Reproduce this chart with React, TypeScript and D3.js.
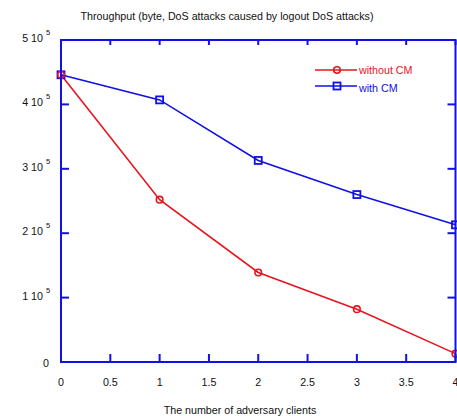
import React from "react";
import * as d3 from "d3";

const clients = [0, 1, 2, 3, 4];
const withoutCM = [446000, 252000, 139000, 82000, 13000];
const withCM = [446000, 407000, 313000, 260000, 213000];
const xTicks = [0, 0.5, 1, 1.5, 2, 2.5, 3, 3.5, 4];
const xTickLabels = ["0", "0.5", "1", "1.5", "2", "2.5", "3", "3.5", "4"];
const yTicks = [0, 100000, 200000, 300000, 400000, 500000];
const yTickMantissa = ["0", "1 10", "2 10", "3 10", "4 10", "5 10"];
const yTickExp = ["", "5", "5", "5", "5", "5"];
const title = "Throughput (byte, DoS attacks caused by logout DoS attacks)";
const xTitle = "The number of adversary clients";
const seriesNames = ["without CM", "with CM"];

const W = 457;
const H = 416;
const left = 61;
const right = 455.5;
const top = 40;
const bottom = 362;
const RED = "#e8141e";
const BLUE = "#1010e8";
const FONT = "'Liberation Sans', Arial, Helvetica, sans-serif";
const FS = 10.7;

export default function App() {
  const x = d3.scaleLinear().domain([0, 4]).range([left, right]);
  const y = d3.scaleLinear().domain([0, 500000]).range([bottom, top]);
  const line = d3
    .line<number>()
    .x((_, i) => x(clients[i]))
    .y((d) => y(d));

  const sq = 7;

  return (
    <svg
      width={W}
      height={H}
      style={{ position: "absolute", left: 0, top: 0, background: "#fff" }}
      fontFamily={FONT}
    >
      <rect x={0} y={0} width={W} height={H} fill="#fff" />
      <text x={227} y={20} fontSize={FS} textAnchor="middle" fill="#111">
        {title}
      </text>

      {/* data lines */}
      <path d={line(withoutCM) || ""} fill="none" stroke={RED} strokeWidth={1.6} />
      <path d={line(withCM) || ""} fill="none" stroke={BLUE} strokeWidth={1.6} />

      {/* markers */}
      {withCM.map((v, i) => (
        <rect
          key={"b" + i}
          x={x(clients[i]) - sq / 2}
          y={y(v) - sq / 2}
          width={sq}
          height={sq}
          fill="none"
          stroke={BLUE}
          strokeWidth={1.8}
        />
      ))}
      {withoutCM.map((v, i) => (
        <circle
          key={"r" + i}
          cx={x(clients[i])}
          cy={y(v)}
          r={3.3}
          fill="none"
          stroke={RED}
          strokeWidth={1.6}
        />
      ))}

      {/* frame */}
      <rect
        x={left}
        y={top}
        width={right - left}
        height={bottom - top}
        fill="none"
        stroke={BLUE}
        strokeWidth={2}
      />
      {xTicks.map((t, i) => (
        <g key={"xt" + i}>
          <line x1={x(t)} x2={x(t)} y1={bottom} y2={bottom - 8} stroke={BLUE} strokeWidth={2} />
          <line x1={x(t)} x2={x(t)} y1={top} y2={top + 5} stroke={BLUE} strokeWidth={2} />
          <text x={x(t)} y={386} fontSize={FS} textAnchor="middle" fill="#111">
            {xTickLabels[i]}
          </text>
        </g>
      ))}
      {yTicks.map((t, i) => (
        <g key={"yt" + i}>
          <line x1={left} x2={left + 8} y1={y(t)} y2={y(t)} stroke={BLUE} strokeWidth={2} />
          <line x1={right} x2={right - 8} y1={y(t)} y2={y(t)} stroke={BLUE} strokeWidth={2} />
          <text
            x={i === 0 ? 49 : 43}
            y={y(t) + (i === 0 ? 5 : 2)}
            fontSize={FS}
            textAnchor="end"
            fill="#111"
          >
            {yTickMantissa[i]}
          </text>
          {yTickExp[i] && (
            <text x={46} y={y(t) - 5} fontSize={7.5} fill="#111">
              {yTickExp[i]}
            </text>
          )}
        </g>
      ))}

      <text x={240} y={414} fontSize={FS} textAnchor="middle" fill="#111">
        {xTitle}
      </text>

      {/* legend */}
      <line x1={315} x2={357} y1={70} y2={70} stroke={RED} strokeWidth={1.6} />
      <circle cx={337} cy={70} r={3.3} fill="none" stroke={RED} strokeWidth={1.6} />
      <text x={359} y={74} fontSize={FS} fill={RED}>
        {seriesNames[0]}
      </text>
      <line x1={315} x2={357} y1={86} y2={86} stroke={BLUE} strokeWidth={1.6} />
      <rect x={337 - sq / 2} y={86 - sq / 2} width={sq} height={sq} fill="none" stroke={BLUE} strokeWidth={1.8} />
      <text x={359} y={92} fontSize={FS} fill={BLUE}>
        {seriesNames[1]}
      </text>
    </svg>
  );
}
